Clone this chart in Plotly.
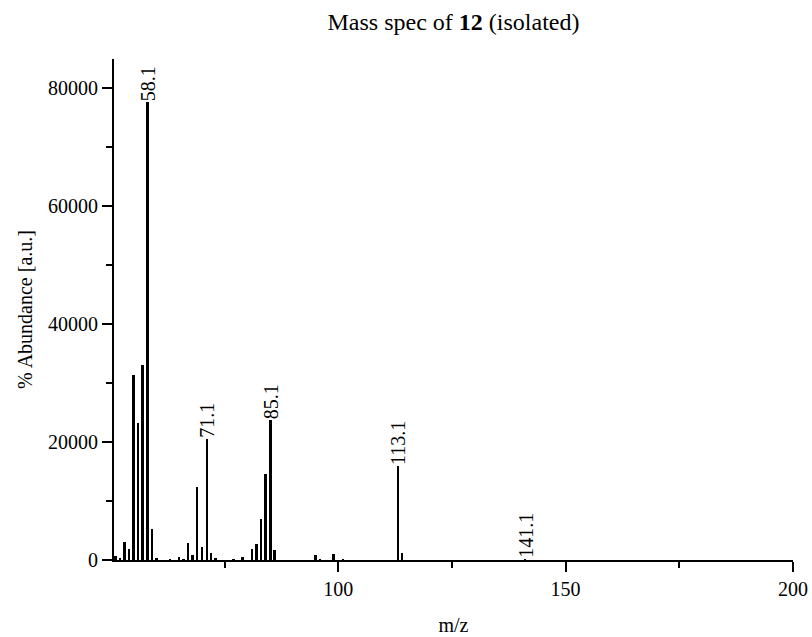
import plotly.graph_objects as go

# m/z values and abundances
mz = [51, 52, 53, 54, 55, 56, 57, 58.1, 59, 60, 63, 65, 66, 67, 68, 69, 70, 71.1,
      72, 73, 77, 79, 81, 82, 83, 84, 85.1, 86, 95, 96, 99, 101, 113.1, 114, 141.1]
abundance = [700, 300, 3100, 1860, 31400, 23170, 33100, 77700, 5200, 220, 100, 450, 100,
             2830, 900, 12370, 2150, 20600, 1240, 200, 150, 500, 1800, 2700, 7000, 14580,
             23700, 1700, 900, 100, 1000, 150, 15900, 1240, 150]

label_mz = [58.1, 71.1, 85.1, 113.1, 141.1]
label_y = [77700, 20600, 23700, 15900, 150]
label_text = ["58.1", "71.1", "85.1", "113.1", "141.1"]

x_tickvals = [100, 150, 200]
x_ticktext = ["100", "150", "200"]
y_tickvals = [0, 20000, 40000, 60000, 80000]
y_ticktext = ["0", "20000", "40000", "60000", "80000"]

FONT = "Liberation Serif, Times New Roman, serif"

fig = go.Figure()
fig.add_trace(go.Bar(x=mz, y=abundance, width=0.55,
                     marker=dict(color="black", line=dict(width=0)),
                     showlegend=False, hoverinfo="x+y"))

for xv, yv, t in zip(label_mz, label_y, label_text):
    fig.add_annotation(x=xv, y=yv, text=t, showarrow=False, textangle=-90,
                       xanchor="center", yanchor="bottom", borderpad=0,
                       font=dict(family=FONT, size=20, color="black"))

fig.update_layout(
    width=812, height=637,
    margin=dict(l=114, r=19, t=59, b=77, autoexpand=False),
    paper_bgcolor="white", plot_bgcolor="white",
    bargap=0,
    font=dict(family=FONT, size=20, color="black"),
    title=dict(text="Mass spec of <b>12</b> (isolated)", x=0.5, xref="paper",
               xanchor="center", y=1 - 22 / 637, yref="container", yanchor="middle",
               font=dict(family=FONT, size=24, color="black")),
    xaxis=dict(range=[50.7, 200], tickmode="array", tickvals=x_tickvals,
               ticktext=x_ticktext, automargin=False,
               ticks="outside", ticklen=10, tickwidth=2, tickcolor="black",
               showline=True, linecolor="black", linewidth=2,
               showgrid=False, zeroline=False,
               minor=dict(dtick=25, tick0=0, ticks="outside", ticklen=6,
                          tickwidth=2, tickcolor="black", showgrid=False),
               title=dict(text="m/z", standoff=19,
                          font=dict(family=FONT, size=20, color="black")),
               tickfont=dict(family=FONT, size=20, color="black")),
    yaxis=dict(range=[0, 85000], tickmode="array", tickvals=y_tickvals,
               ticktext=y_ticktext, automargin=False,
               ticks="outside", ticklen=10, tickwidth=2, tickcolor="black",
               showline=True, linecolor="black", linewidth=2,
               showgrid=False, zeroline=False,
               minor=dict(dtick=10000, tick0=0, ticks="outside", ticklen=6,
                          tickwidth=2, tickcolor="black", showgrid=False),
               title=dict(text="% Abundance [a.u.]", standoff=10,
                          font=dict(family=FONT, size=20, color="black")),
               tickfont=dict(family=FONT, size=20, color="black")),
)

fig.write_html("out.html",
               config={"displayModeBar": False},
               post_script="document.body.style.margin='0';"
                           "document.body.style.overflow='hidden';")
